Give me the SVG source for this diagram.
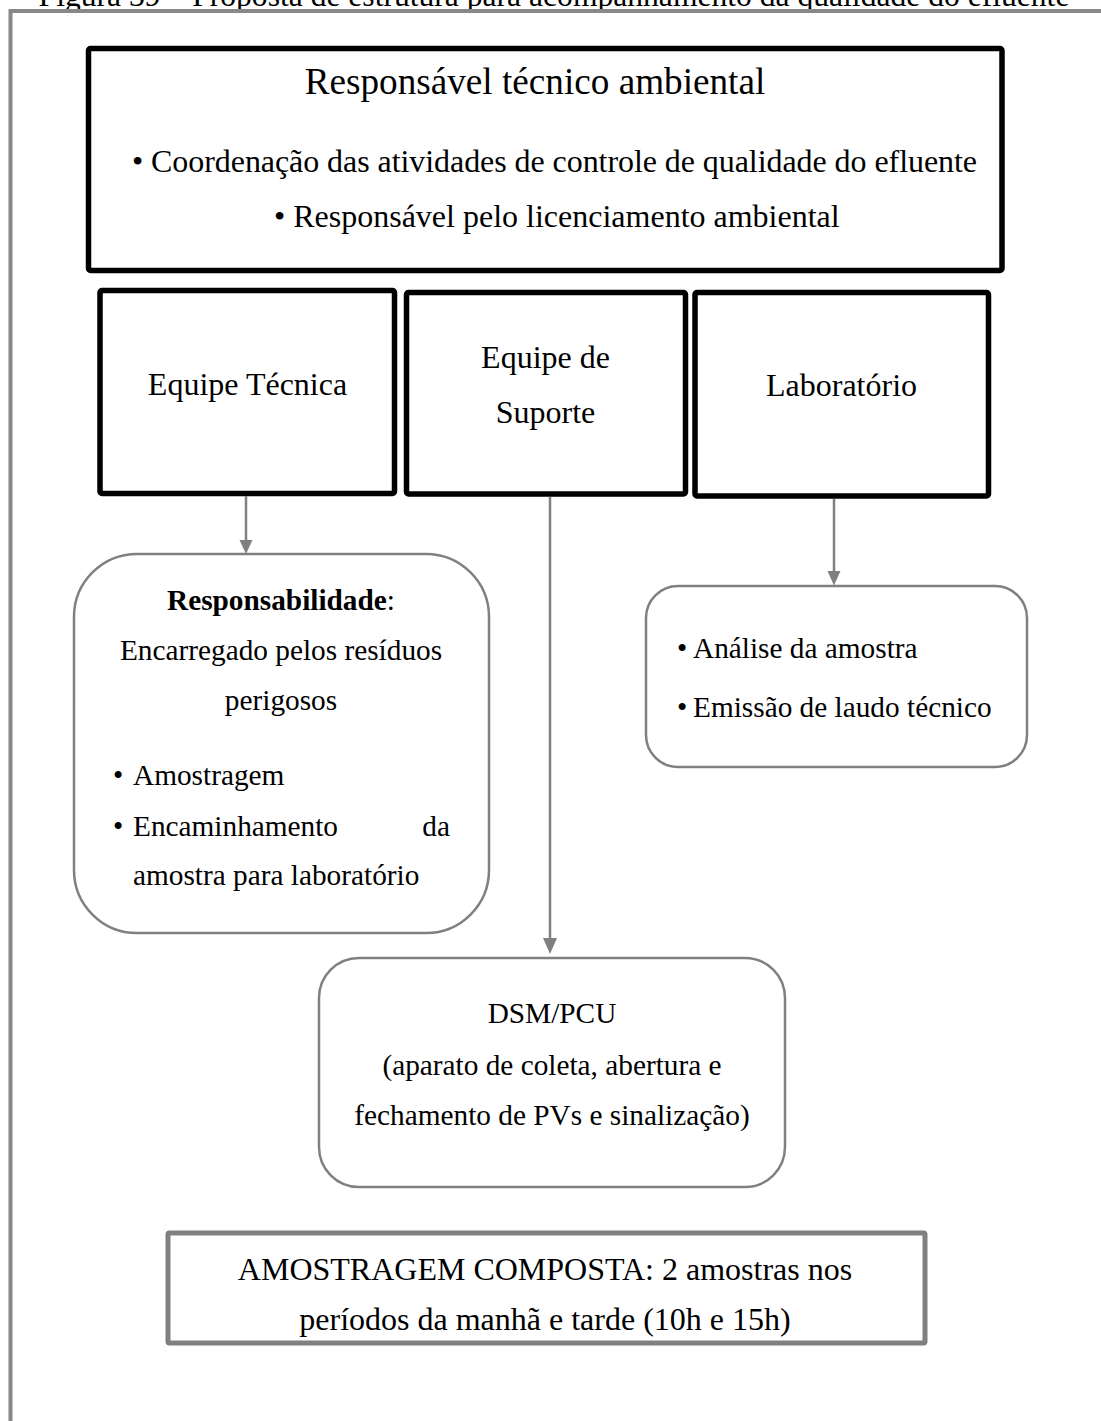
<svg xmlns="http://www.w3.org/2000/svg" width="1101" height="1421" viewBox="0 0 1101 1421">
<style>
text{font-family:"Liberation Serif","Times New Roman",serif;fill:#000}
.cap{font-size:31.6px}
.t37{font-size:37.2px}
.t32{font-size:32px}
.t29{font-size:29.3px}
.hard{fill:#fff;stroke:#000;stroke-width:5.5}
.soft{fill:#fff;stroke:#808080;stroke-width:2.5}
.frame{fill:none;stroke:#888;stroke-width:4}
.conn{stroke:#808080;stroke-width:2.5;fill:none}
.head{fill:#808080}
</style>
<rect width="1101" height="1421" fill="#fff"/>
<text class="cap" x="554" y="6" text-anchor="middle">Figura 39 – Proposta de estrutura para acompanhamento da qualidade do efluente</text>
<g id="frame">
<path class="frame" d="M10.5 1421 V11 H1101"/>
</g>
<g id="responsavel">
<rect class="hard" x="88.5" y="48.5" width="913.5" height="222" rx="2"/>
<text class="t37" x="535" y="94" text-anchor="middle">Responsável técnico ambiental</text>
<text class="t32" x="132" y="171.5" textLength="845" lengthAdjust="spacing">• Coordenação das atividades de controle de qualidade do efluente</text>
<text class="t32" x="274" y="226.5">• Responsável pelo licenciamento ambiental</text>
</g>
<g id="equipe-tecnica">
<rect class="hard" x="100" y="290.5" width="294.5" height="203" rx="2"/>
<text class="t32" x="247.5" y="395" text-anchor="middle">Equipe Técnica</text>
</g>
<g id="equipe-suporte">
<rect class="hard" x="406.5" y="292.5" width="279" height="201.5" rx="2"/>
<text class="t32" x="545.5" y="368" text-anchor="middle">Equipe de</text>
<text class="t32" x="545.5" y="423" text-anchor="middle">Suporte</text>
</g>
<g id="laboratorio">
<rect class="hard" x="695" y="292.5" width="293.5" height="203.5" rx="2"/>
<text class="t32" x="841.5" y="396" text-anchor="middle">Laboratório</text>
</g>
<g id="connectors">
<line class="conn" x1="246" y1="496" x2="246" y2="542"/>
<polygon class="head" points="239.5,540 252.5,540 246,554"/>
<line class="conn" x1="550" y1="497" x2="550" y2="940"/>
<polygon class="head" points="543,938 557,938 550,954"/>
<line class="conn" x1="834" y1="499" x2="834" y2="573"/>
<polygon class="head" points="827.5,571 840.5,571 834,585.5"/>
</g>
<g id="responsabilidade">
<rect class="soft" x="74" y="554" width="415" height="379" rx="63"/>
<text class="t29" x="281" y="610" text-anchor="middle"><tspan font-weight="bold">Responsabilidade</tspan>:</text>
<text class="t29" x="281" y="660" text-anchor="middle">Encarregado pelos resíduos</text>
<text class="t29" x="281" y="710" text-anchor="middle">perigosos</text>
<text class="t29" x="113" y="785">•</text>
<text class="t29" x="133" y="785">Amostragem</text>
<text class="t29" x="113" y="836">•</text>
<text class="t29" x="133" y="836">Encaminhamento</text>
<text class="t29" x="450" y="836" text-anchor="end">da</text>
<text class="t29" x="133" y="885">amostra para laboratório</text>
</g>
<g id="analise">
<rect class="soft" x="646" y="586" width="381" height="181" rx="32"/>
<text class="t29" x="677" y="658">•</text>
<text class="t29" x="693" y="658">Análise da amostra</text>
<text class="t29" x="677" y="717">•</text>
<text class="t29" x="693" y="717">Emissão de laudo técnico</text>
</g>
<g id="dsm-pcu">
<rect class="soft" x="319" y="958" width="466" height="229" rx="40"/>
<text class="t29" x="552" y="1023" text-anchor="middle">DSM/PCU</text>
<text class="t29" x="552" y="1075" text-anchor="middle">(aparato de coleta, abertura e</text>
<text class="t29" x="552" y="1125" text-anchor="middle">fechamento de PVs e sinalização)</text>
</g>
<g id="amostragem">
<rect x="168" y="1233" width="757" height="110" fill="#fff" stroke="#808080" stroke-width="5" rx="1.5"/>
<text class="t32" x="545" y="1280" text-anchor="middle">AMOSTRAGEM COMPOSTA: 2 amostras nos</text>
<text class="t32" x="545" y="1330" text-anchor="middle">períodos da manhã e tarde (10h e 15h)</text>
</g>
</svg>
